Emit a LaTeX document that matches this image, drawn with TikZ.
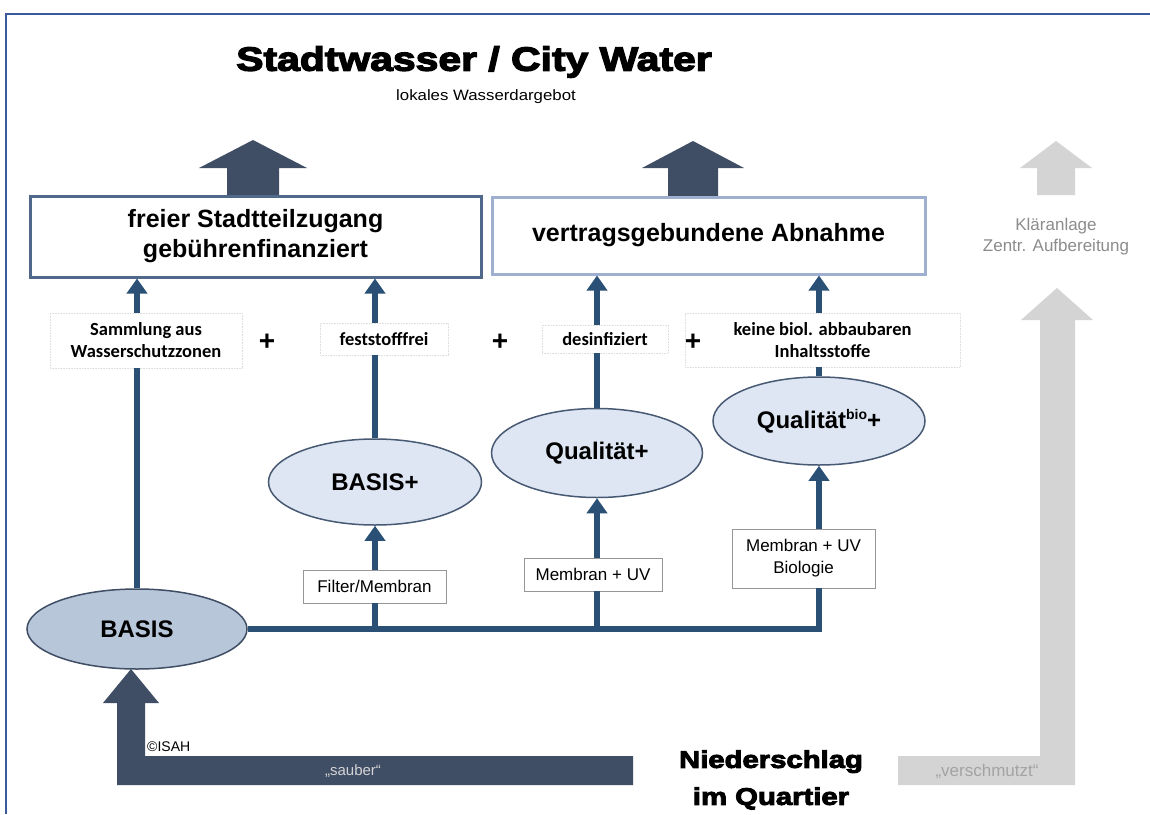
\documentclass[tikz,border=0pt]{standalone}
\usepackage{fontspec}
\setmainfont{Liberation Sans}
\newfontfamily\heavyfont[FakeBold=4,FakeStretch=1.22]{Liberation Sans}
\newfontfamily\wideregfont[FakeStretch=1.12]{Liberation Sans}
\newfontfamily\calfont{Carlito}
\usetikzlibrary{arrows.meta,positioning,shapes.geometric}

\definecolor{framecol}{RGB}{59,90,155}
\definecolor{connblue}{RGB}{42,80,118}
\definecolor{bigdark}{RGB}{63,77,101}
\definecolor{ellfill}{RGB}{221,230,242}
\definecolor{ellbasis}{RGB}{184,198,218}
\definecolor{ellline}{RGB}{72,90,115}
\definecolor{goalone}{RGB}{80,104,138}
\definecolor{goaltwo}{RGB}{158,175,208}
\definecolor{wastegray}{RGB}{212,212,212}
\definecolor{wastetext}{RGB}{140,140,140}
\definecolor{crittrim}{RGB}{222,222,222}
\definecolor{techtrim}{RGB}{150,150,150}

\begin{document}
\begin{tikzpicture}[x=1pt,y=-1pt,
  conn/.style={line width=6pt,draw=connblue},
  upconn/.style={conn,-{Triangle[width=20pt,length=15pt]}},
  goal/.style={draw,line width=3pt,fill=white,inner sep=0pt,align=center,
    font=\bfseries\fontsize{25}{30}\selectfont},
  plant/.style={ellipse,draw=ellline,line width=1.5pt,fill=ellfill,inner sep=0pt,
    font=\bfseries\fontsize{24}{26}\selectfont},
  crit/.style={draw=crittrim,densely dotted,line width=.6pt,fill=white,inner sep=0pt,
    align=center,font=\calfont\bfseries\fontsize{18.5}{22}\selectfont},
  tech/.style={draw=techtrim,line width=.8pt,fill=white,inner sep=0pt,align=center,
    font=\fontsize{17}{22}\selectfont},
  plus/.style={font=\bfseries\fontsize{28}{28}\selectfont},
  waste/.style={text=wastetext,align=center,font=\fontsize{17}{21}\selectfont}
]
\useasboundingbox (0,0) rectangle (1150,814);
\fill[white] (0,0) rectangle (1150,814);
\draw[framecol,line width=2pt] (6,814) -- (6,14) -- (1150,14);

% title
\node[font=\heavyfont\bfseries\fontsize{33.5}{36}\selectfont] (title) at (474,62) {Stadtwasser / City Water};
\node[font=\wideregfont\fontsize{15}{18}\selectfont] (subtitle) at (486,97) {lokales Wasserdargebot};

% big arrows to the city
\fill[bigdark] (227,197) -- (227,168) -- (199,168) -- (253,140) -- (307,168) -- (279,168) -- (279,197) -- cycle;
\fill[bigdark] (668,197) -- (668,168) -- (642,168) -- (693,141) -- (744,168) -- (718,168) -- (718,197) -- cycle;
\fill[wastegray] (1037,195) -- (1037,168) -- (1020,168) -- (1056,141) -- (1092,168) -- (1075,168) -- (1075,195) -- cycle;

% take-off boxes
\node[goal,draw=goalone,minimum width=451pt,minimum height=81pt] (free) at (255.5,236.5)
  {freier Stadtteilzugang\\gebührenfinanziert};
\node[goal,draw=goaltwo,minimum width=433pt,minimum height=77pt] (contract) at (708.5,235.5)
  {vertragsgebundene Abnahme};
\node[waste] (plant) at (1056,237) {Kläranlage\\Zentr. Aufbereitung};

% treatment levels
\node[plant,fill=ellbasis,draw=bigdark,minimum width=220pt,minimum height=80pt] (basis) at (137,629) {BASIS};
\node[plant,minimum width=213pt,minimum height=86pt] (bplus) at (375,482) {BASIS+};
\node[plant,minimum width=211pt,minimum height=89pt] (qplus) at (597,453) {Qualität+};
\node[plant,minimum width=212pt,minimum height=88pt] (qbio) at (819,421)
  {Qualität\raisebox{.36em}{\fontsize{14}{14}\selectfont bio}+};

% criteria
\node[crit,minimum width=192pt,minimum height=55pt] (collect) at (146,340.5) {Sammlung aus\\Wasserschutzzonen};
\node[crit,minimum width=128pt,minimum height=32pt] (solid) at (384,339) {feststofffrei};
\node[crit,minimum width=126pt,minimum height=28pt] (disinf) at (605,339) {desinfiziert};
\node[crit,minimum width=275pt,minimum height=54pt] (nobio) at (822.5,340) {keine biol. abbaubaren\\Inhaltsstoffe};
\node[plus] (plusa) at (267,342) {+};
\node[plus] (plusb) at (500,342) {+};
\node[plus] (plusc) at (693,342) {+};

% techniques
\node[tech,minimum width=143pt,minimum height=33pt] (filter) at (374.5,586.5) {Filter/Membran};
\node[tech,minimum width=138pt,minimum height=33pt] (uv) at (593,574.5) {Membran + UV};
\node[tech,minimum width=143pt,minimum height=59pt] (uvbio) at (803.5,558.5) {Membran + UV\\Biologie};

% distribution
\draw[conn] (basis.east) -| (qbio.south |- uvbio.south);
\draw[conn] (bplus.south |- basis.east) -- (bplus.south |- filter.south);
\draw[conn] (qplus.south |- basis.east) -- (qplus.south |- uv.south);
\draw[upconn] (bplus.south |- filter.north) -- (bplus.south);
\draw[upconn] (qplus.south |- uv.north) -- (qplus.south);
\draw[upconn] (qbio.south |- uvbio.north) -- (qbio.south);

\draw[conn] (basis.north) -- (basis.north |- collect.south);
\draw[upconn] (basis.north |- collect.north) -- (basis.north |- free.south);
\draw[conn] (bplus.north) -- (bplus.north |- solid.south);
\draw[upconn] (bplus.north |- solid.north) -- (bplus.north |- free.south);
\draw[conn] (qplus.north) -- (qplus.north |- disinf.south);
\draw[upconn] (qplus.north |- disinf.north) -- (qplus.north |- contract.south);
\draw[conn] (qbio.north) -- (qbio.north |- nobio.south);
\draw[upconn] (qbio.north |- nobio.north) -- (qbio.north |- contract.south);

% precipitation
\fill[bigdark] (633,756) -- (145,756) -- (145,703) -- (159,703) -- (131,669) -- (103,703) -- (117,703) -- (117,785) -- (633,785) -- cycle;
\fill[wastegray] (898,756) -- (1040,756) -- (1040,320) -- (1021,320) -- (1057,288) -- (1093,320) -- (1075,320) -- (1075,785) -- (898,785) -- cycle;
\node[font=\fontsize{15}{15}\selectfont,text=wastegray] (clean) at (353,771) {„sauber“};
\node[font=\fontsize{17}{17}\selectfont,text=wastetext!80] (dirty) at (987,771) {„verschmutzt“};
\node[font=\fontsize{14}{14}\selectfont,anchor=south west,inner sep=0pt] (isah) at (147,752) {©ISAH};
\node[font=\heavyfont\bfseries\fontsize{24}{37}\selectfont,align=center] (rain) at (771,780) {Niederschlag\\im Quartier};
\end{tikzpicture}
\end{document}
